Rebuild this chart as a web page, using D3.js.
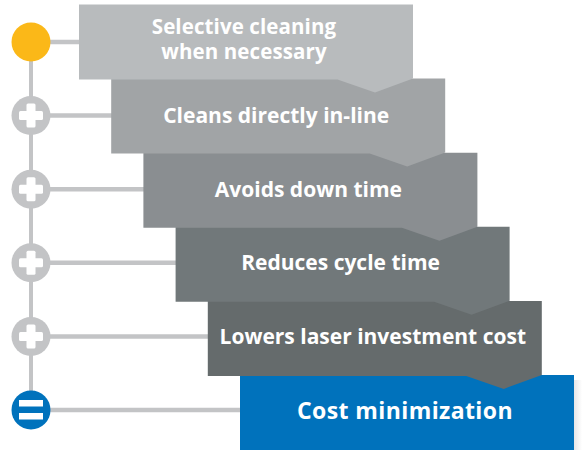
<!DOCTYPE html>
<html>
<head>
<meta charset="utf-8">
<script src="https://cdn.jsdelivr.net/npm/d3@7/dist/d3.min.js"></script>
<style>
  html, body { margin: 0; padding: 0; background: #ffffff; }
  svg { display: block; }
</style>
</head>
<body>
<svg id="chart" width="582" height="450"></svg>
<script>
// ---- data ----
const steps = ["s1", "s2", "s3", "s4", "s5", "s6"];
const labels = [
  ["Selective cleaning", "when necessary"],
  ["Cleans directly in-line"],
  ["Avoids down time"],
  ["Reduces cycle time"],
  ["Lowers laser investment cost"],
  ["Cost minimization"]
];
const icons = ["dot", "plus", "plus", "plus", "plus", "equals"];
const boxColors = ["#b8bbbd", "#a1a4a6", "#8a8e91", "#71787a", "#656b6c", "#0072bc"];
const iconColors = { dot: "#fbb818", plus: "#c3c4c6", equals: "#0072bc" };

// ---- layout ----
const W = 582, H = 450;
const svg = d3.select("#chart");

const idx = d3.range(steps.length);
const last = steps.length - 1;
const boxX = d3.scaleLinear().domain([0, last]).range([79, 240]);
const boxY = d3.scaleLinear().domain([0, last]).range([4.5, 375]);
const iconY = d3.scalePoint().domain(steps).range([42, 410]);
const boxW = 334, boxH = 75;
const lineX = 31, r = 19.5;
const notchDepth = 13, notchHalf = 37.5, notchFromRight = 38;

const defs = svg.append("defs");
const grad = defs.append("linearGradient").attr("id", "shadow").attr("x1", 0).attr("x2", 1);
grad.append("stop").attr("offset", 0).attr("stop-color", "#e6e6e7");
grad.append("stop").attr("offset", 1).attr("stop-color", "#ffffff");

// vertical spine
svg.append("line")
  .attr("x1", lineX).attr("x2", lineX)
  .attr("y1", iconY(steps[0])).attr("y2", iconY(steps[last]))
  .attr("stroke", "#c3c4c6").attr("stroke-width", 4);

// horizontal connectors
svg.selectAll("line.conn").data(idx).join("line")
  .attr("class", "conn")
  .attr("x1", lineX).attr("x2", i => boxX(i) + 1)
  .attr("y1", i => iconY(steps[i])).attr("y2", i => iconY(steps[i]))
  .attr("stroke", "#c3c4c6").attr("stroke-width", 4.5);

// shadow at right of final box
svg.append("rect")
  .attr("x", boxX(last) + boxW).attr("y", boxY(last) + 5)
  .attr("width", 8).attr("height", H - boxY(last) - 5)
  .attr("fill", "url(#shadow)");

// boxes (drawn last-first so arrow notches overlap the next box)
function boxPath(i) {
  const x0 = boxX(i), y0 = boxY(i), x1 = x0 + boxW;
  const y1 = i === last ? H : y0 + boxH;
  if (i === last) return `M${x0},${y0}H${x1}V${y1}H${x0}Z`;
  const ax = x1 - notchFromRight;
  return `M${x0},${y0}H${x1}V${y1 - 1}L${ax},${y1 + notchDepth}L${ax - notchHalf},${y1}H${x0}Z`;
}
svg.selectAll("path.box").data(idx.slice().reverse()).join("path")
  .attr("class", "box")
  .attr("d", boxPath)
  .attr("fill", i => boxColors[i]);

// labels: one text element per line
const lineGap = 25;
const lines = [];
idx.forEach(i => labels[i].forEach((t, j) => lines.push({ t, i, j, n: labels[i].length })));
svg.selectAll("text.lbl").data(lines).join("text")
  .attr("class", "lbl")
  .attr("x", d => boxX(d.i) + boxW / 2 - 2)
  .attr("y", d => iconY(steps[d.i]) + (d.i === last ? 8.5 : 7.5) - (d.n - 1) * 15.5 + d.j * lineGap)
  .attr("text-anchor", "middle")
  .attr("fill", "#ffffff")
  .attr("font-family", "'Open Sans', 'Noto Sans', sans-serif")
  .attr("font-weight", 700)
  .attr("font-size", d => d.i === last ? 23 : (d.n > 1 ? 20.5 : 21))
  .attr("letter-spacing", d => d.i === last ? 0.4 : (d.n > 1 ? 0.1 : 0))
  .text(d => d.t);

// icons
const ig = svg.selectAll("g.icon").data(idx).join("g")
  .attr("class", "icon")
  .attr("transform", i => `translate(${lineX},${iconY(steps[i])})`);
ig.append("circle").attr("r", r).attr("fill", i => iconColors[icons[i]]);
ig.filter(i => icons[i] === "plus").each(function () {
  const g = d3.select(this);
  g.append("rect").attr("x", -12).attr("y", -4.5).attr("width", 24).attr("height", 9).attr("rx", 1.5).attr("fill", "#fff");
  g.append("rect").attr("x", -4.5).attr("y", -12).attr("width", 9).attr("height", 24).attr("rx", 1.5).attr("fill", "#fff");
});
ig.filter(i => icons[i] === "equals").each(function () {
  const g = d3.select(this);
  g.append("rect").attr("x", -12).attr("y", -10).attr("width", 24).attr("height", 6.5).attr("fill", "#fff");
  g.append("rect").attr("x", -12).attr("y", 3).attr("width", 24).attr("height", 6.5).attr("fill", "#fff");
});
</script>
</body>
</html>
